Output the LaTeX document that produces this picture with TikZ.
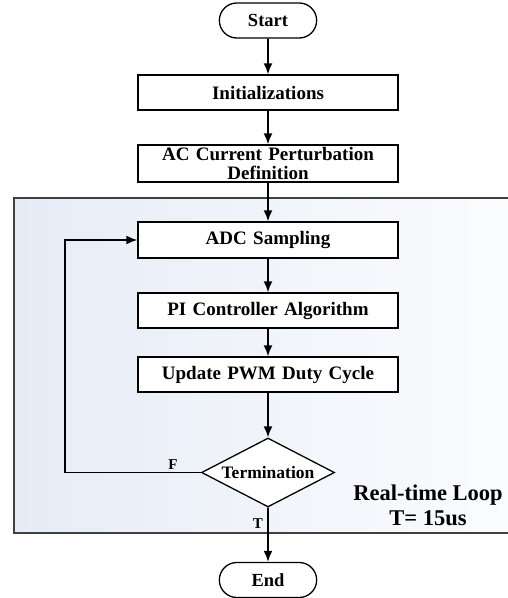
\documentclass[tikz,border=0pt]{standalone}
\usepackage{fontspec}
\setmainfont{Liberation Serif}
\usetikzlibrary{shapes,arrows.meta,backgrounds}
\definecolor{loopleft}{RGB}{230,236,246}
\definecolor{loopright}{RGB}{251,252,254}
\tikzstyle{line} = [draw, -{Latex[length=11pt, width=9pt]}, line width=1.8pt]
\tikzstyle{terminal} = [draw, rounded rectangle, fill=white, line width=1.3pt, minimum width=104pt, minimum height=35pt, font=\fontsize{18.5}{18.5}\selectfont\bfseries]
\tikzstyle{box} = [rectangle, draw, fill=white, line width=1.3pt, text width=250pt, minimum height=35pt, minimum width=260pt, text centered, inner ysep=1pt, font=\fontsize{19}{18.5}\selectfont\bfseries]
\tikzstyle{decision} = [diamond, draw, fill=white, line width=1.3pt, aspect=1.93, inner sep=0pt, minimum width=133pt, minimum height=69pt, font=\fontsize{17.5}{17.5}\selectfont\bfseries]
\tikzstyle{flag} = [font=\fontsize{15}{15}\selectfont\bfseries, inner sep=0pt]
\tikzstyle{frame} = [draw=black!75, line width=1.6pt, left color=loopleft, right color=loopright]

\begin{document}
\begin{tikzpicture}[x=1pt, y=1pt, node distance=72pt]
	\useasboundingbox (0,0) rectangle (508,-598);
	
	\node [terminal] at (268,-20.5) (start) {Start};
	\node [box, below of = start] (init) {Initializations};
	\node [box, below of = init, node distance = 71pt, minimum height = 37pt] (acdef) {AC Current Perturbation\\Definition};
	\node [box, below of = acdef, node distance = 76.5pt, minimum height = 36pt] (adc) {ADC Sampling};
	\node [box, below of = adc, node distance = 70.5pt] (pi) {PI Controller Algorithm};
	\node [box, below of = pi, node distance = 64pt] (pwm) {Update PWM Duty Cycle};
	\node [decision, below of = pwm, node distance = 98pt] (check) {Termination};
	\node [terminal, below of = check, node distance = 107.5pt] (stop) {End};
	
	\node [flag, left of = check, node distance = 95pt, yshift = 8pt] (f) {F};
	\node [flag, below of = check, node distance = 51.5pt, xshift = -10pt] (t) {T};
	\node [align=center, font=\fontsize{22.5}{25}\selectfont\bfseries] at (428,-505) (rt) {Real-time Loop\\T= 15us};
	
	\coordinate (back) at (65,0);
	\begin{scope}[on background layer]
		\path [frame] (14,-198) rectangle (512,-533);
	\end{scope}
	
	\path [line] (start) -- (init);
	\path [line] (init) -- (acdef);
	\path [line] (acdef) -- (adc);
	\path [line] (adc) -- (pi);
	\path [line] (pi) -- (pwm);
	\path [line] (pwm) -- (check);
	\path [line] (check) -- (stop);
	\path [line] (check.west) -- (check.west -| back) |- (adc.west);
\end{tikzpicture}
\end{document}
